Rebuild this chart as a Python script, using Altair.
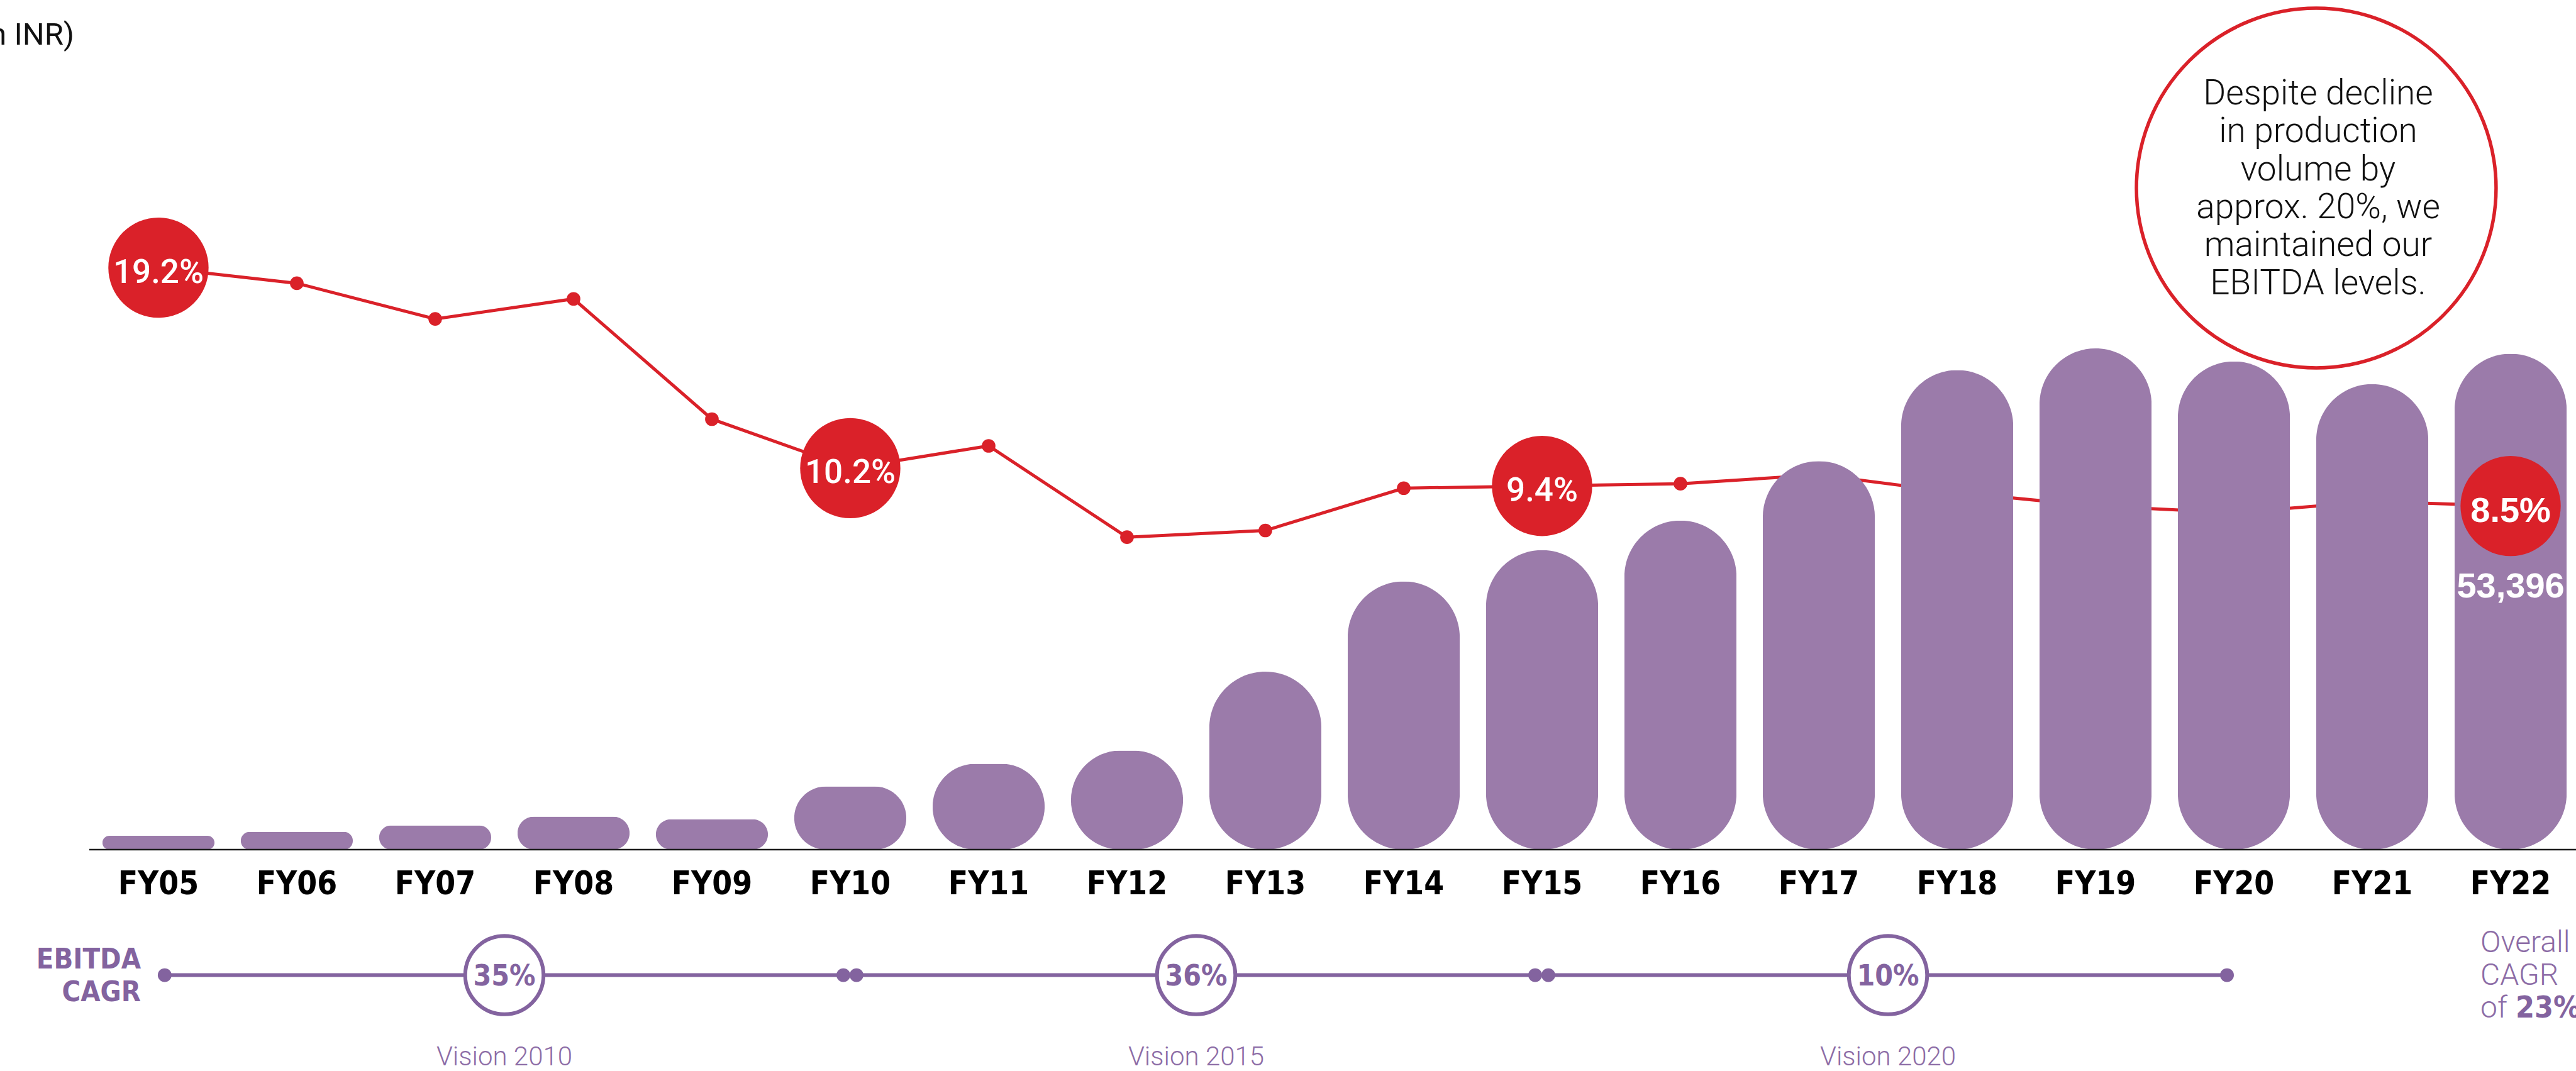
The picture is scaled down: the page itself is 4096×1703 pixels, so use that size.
import altair as alt
import pandas as pd

# ---------------- data ----------------
years = ["FY05", "FY06", "FY07", "FY08", "FY09", "FY10", "FY11", "FY12", "FY13",
         "FY14", "FY15", "FY16", "FY17", "FY18", "FY19", "FY20", "FY21", "FY22"]
ebitda = [1486, 1910, 2600, 3555, 3272, 6810, 9250, 10665, 19155,
          28883, 32243, 35427, 41830, 51628, 53963, 52566, 50125, 53396]
margin = [19.2, 18.5, 16.9, 17.8, 12.4, 10.2, 11.2, 7.1, 7.4,
          9.3, 9.4, 9.5, 9.9, 9.1, 8.5, 8.2, 8.7, 8.5]
callout_years = ["FY05", "FY10", "FY15"]
last_year = "FY22"
cagr_start = ["FY05", "FY10", "FY15"]
cagr_end = ["FY10", "FY15", "FY20"]
cagr_values = ["35%", "36%", "10%"]
vision_labels = ["Vision 2010", "Vision 2015", "Vision 2020"]
note_lines = ["Despite decline", "in production", "volume by",
              "approx. 20%, we", "maintained our", "EBITDA levels."]
unit_text = "(₹ million in INR)"
cagr_title = ["EBITDA", "CAGR"]
overall_lines = ["Overall", "CAGR", "of"]
overall_value = "23%"

# ---------------- geometry / style ----------------
W, H = 3948, 1351
PAD_L, PAD_B = 148, 352
Y_MAX = 91476
PCT_DOMAIN = [-6.93, 31.22]
U_DOMAIN = [0.0275, 17.9725]

RED = "#DA2129"
BAR = "#9B7BAA"
PURPLE = "#83639F"
LIGHTP = "#8C6CA6"
COND = "DejaVu Sans Condensed, DejaVu Sans, sans-serif"
LIGHT = "Roboto, sans-serif"

df = pd.DataFrame({"year": years, "ebitda": ebitda, "margin": margin})
idx = {y: i for i, y in enumerate(years)}

xband = alt.Scale(type="band", domain=years, paddingInner=0.19, paddingOuter=0.0675)
ybar = alt.Scale(domain=[0, Y_MAX], nice=False, zero=False)
ypct = alt.Scale(domain=PCT_DOMAIN, nice=False, zero=False)
uscale = alt.Scale(domain=U_DOMAIN, nice=False, zero=False)


def X(axis=None):
    return alt.X("year:N", scale=xband, axis=axis, title=None)


YP = alt.Y("margin:Q", scale=ypct, axis=None)
YB = alt.Y("ebitda:Q", scale=ybar, axis=None)

base = alt.Chart(df)

line = base.mark_line(color=RED, strokeWidth=5).encode(x=X(), y=YP)
dots = base.mark_circle(color=RED, size=470, opacity=1).encode(x=X(), y=YP)

xaxis = alt.Axis(labelAngle=0, ticks=False, domain=False, grid=False,
                 labelFont=COND, labelFontSize=51, labelFontWeight="bold",
                 labelColor="#000000", labelPadding=70, labelBaseline="alphabetic")
bars = base.mark_bar(color=BAR, cornerRadius=120).encode(x=X(xaxis), y=YB)

bar_label = alt.Chart(df[df.year == last_year]).mark_text(
    color="white", font="Liberation Sans, Arial, sans-serif", fontWeight="bold",
    fontSize=56, baseline="alphabetic", dy=388
).encode(x=X(), y=YB, text=alt.Text("ebitda:Q", format=","))

call_df = df[df.year.isin(callout_years + [last_year])]
call_circles = alt.Chart(call_df).mark_circle(color=RED, size=25400, opacity=1).encode(x=X(), y=YP)
call_text = alt.Chart(df[df.year.isin(callout_years)]).transform_calculate(
    label="format(datum.margin, '.1f') + '%'"
).mark_text(color="white", font=LIGHT, fontWeight=500, fontSize=53,
            baseline="alphabetic", dy=24).encode(x=X(), y=YP, text="label:N")
last_text = alt.Chart(df[df.year == last_year]).transform_calculate(
    label="format(datum.margin, '.1f') + '%'"
).mark_text(color="white", font="Liberation Sans, Arial, sans-serif", fontWeight="bold",
            fontSize=56, baseline="alphabetic", dy=25).encode(x=X(), y=YP, text="label:N")

# baseline
base_df = pd.DataFrame({"u0": [0.0], "u1": [18.0], "v": [0]})
baseline = alt.Chart(base_df).mark_rule(color="#1a1a1a", strokeWidth=2.5).encode(
    x=alt.X("u0:Q", scale=uscale, axis=None), x2="u1:Q",
    y=alt.Y("v:Q", scale=ybar, axis=None))

# CAGR timeline
cag = pd.DataFrame({"start": cagr_start, "end": cagr_end,
                    "label": cagr_values, "vision": vision_labels})
cag["s"] = cag["start"].map(idx) + 0.5 + 0.045
cag["e"] = cag["end"].map(idx) + 0.5 - 0.05
cag["m"] = (cag["start"].map(idx) + cag["end"].map(idx)) / 2 + 0.5
ends = pd.DataFrame({"u": list(cag["s"]) + list(cag["e"])})
TL_Y = 1550.6

seg = alt.Chart(cag).mark_rule(color=PURPLE, strokeWidth=6).encode(
    x=alt.X("s:Q", scale=uscale, axis=None), x2="e:Q", y=alt.value(TL_Y))
seg_dots = alt.Chart(ends).mark_circle(color=PURPLE, size=480, opacity=1).encode(
    x=alt.X("u:Q", scale=uscale, axis=None), y=alt.value(TL_Y))
cag_circ = alt.Chart(cag).mark_point(shape="circle", filled=True, fill="white",
                                      stroke=PURPLE, strokeWidth=6, size=15500,
                                      opacity=1, fillOpacity=1, strokeOpacity=1).encode(
    x=alt.X("m:Q", scale=uscale, axis=None), y=alt.value(TL_Y))
cag_text = alt.Chart(cag).mark_text(font=COND, fontWeight="bold", fontSize=46,
                                     color=PURPLE, baseline="alphabetic").encode(
    x=alt.X("m:Q", scale=uscale, axis=None), y=alt.value(1567), text="label:N")
vis_text = alt.Chart(cag).mark_text(font=LIGHT, fontWeight=300, fontSize=42,
                                     color=LIGHTP, baseline="alphabetic").encode(
    x=alt.X("m:Q", scale=uscale, axis=None), y=alt.value(1694), text="vision:N")

one = alt.Chart(pd.DataFrame({"a": [0]}))
title_txt = one.mark_text(text=cagr_title, font=COND, fontWeight="bold", fontSize=45,
                          color=PURPLE, align="right", baseline="alphabetic",
                          lineHeight=52).encode(x=alt.value(76), y=alt.value(1540))
overall_txt = one.mark_text(text=overall_lines, font=LIGHT, fontWeight=300, fontSize=48,
                            color=LIGHTP, align="left", baseline="alphabetic",
                            lineHeight=52).encode(x=alt.value(3796), y=alt.value(1513.5))
overall_val = one.mark_text(text=overall_value, font=COND, fontWeight="bold", fontSize=48,
                            color=PURPLE, align="left", baseline="alphabetic").encode(
    x=alt.value(3852), y=alt.value(1617.7))
note_txt = one.mark_text(text=note_lines, font=LIGHT, fontWeight=300, fontSize=55,
                         color="#111111", align="center", baseline="alphabetic",
                         lineHeight=60.3).encode(x=alt.value(3538), y=alt.value(166))
note_circle = one.mark_point(shape="circle", filled=False, stroke=RED, strokeWidth=5.5,
                             size=327000, opacity=1).encode(
    x=alt.value(3535), y=alt.value(299))
unit_txt = one.mark_text(text=unit_text, font=LIGHT, fontSize=49, color="#111111",
                         align="right", baseline="alphabetic").encode(
    x=alt.value(-30), y=alt.value(71))

chart = alt.layer(
    line, dots, bars, bar_label, call_circles, call_text, last_text,
    baseline, seg, seg_dots, cag_circ, cag_text, vis_text,
    title_txt, overall_txt, overall_val, note_circle, note_txt, unit_txt
).resolve_scale(x="independent", y="independent").properties(
    width=W, height=H,
    autosize=alt.AutoSizeParams(type="none"),
    padding={"left": PAD_L, "right": 0, "top": 0, "bottom": PAD_B},
    background="white",
).configure_view(strokeWidth=0)

chart.save("out.html", embed_options={"renderer": "svg", "actions": False})
